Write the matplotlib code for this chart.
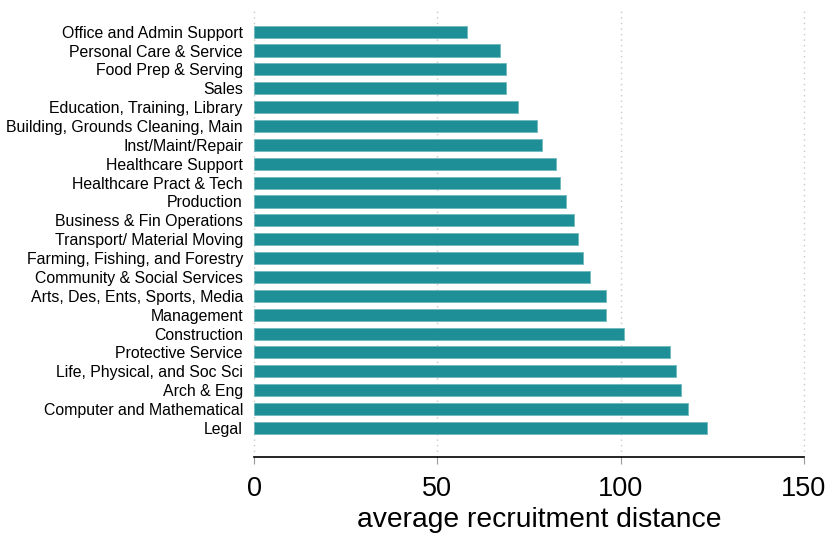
import matplotlib.pyplot as plt
import numpy as np

plt.rcParams['font.family'] = ['Liberation Sans', 'DejaVu Sans']

occupations = ['Office and Admin Support', 'Personal Care & Service', 'Food Prep & Serving',
               'Sales', 'Education, Training, Library', 'Building, Grounds Cleaning, Main',
               'Inst/Maint/Repair', 'Healthcare Support', 'Healthcare Pract & Tech',
               'Production', 'Business & Fin Operations', 'Transport/ Material Moving',
               'Farming, Fishing, and Forestry', 'Community & Social Services',
               'Arts, Des, Ents, Sports, Media', 'Management', 'Construction',
               'Protective Service', 'Life, Physical, and Soc Sci', 'Arch & Eng',
               'Computer and Mathematical', 'Legal']
distance = [58.2, 67.0, 68.8, 68.8, 72.0, 77.3, 78.5, 82.4, 83.5, 85.0, 87.4, 88.3,
            89.8, 91.7, 95.9, 96.0, 100.9, 113.4, 115.2, 116.4, 118.4, 123.5]

fig = plt.figure(figsize=(8.28, 5.37), dpi=100)
ax = fig.add_axes([0.3068, 0.149, 0.6642, 0.836])

y = np.arange(len(occupations))[::-1]
ax.barh(y, distance, height=0.64, color='#1e8f97', edgecolor='#6fb9bd', linewidth=0.6, zorder=2)

ax.set_yticks(y)
ax.set_yticklabels(occupations, fontsize=11.4)
ax.tick_params(axis='y', length=0, pad=8)

ax.set_xlim(0, 150)
ax.set_ylim(-1.54, 22.25)
ax.set_xticks([0, 50, 100, 150])
ax.tick_params(axis='x', labelsize=19.5, length=5, color='#999999', pad=9)
ax.set_xlabel('average recruitment distance', fontsize=20.3, labelpad=3, x=0.518)

ax.grid(axis='x', linestyle=(0, (1, 3)), color='#c8c8c8', linewidth=1, zorder=0)
for gl in ax.get_xgridlines():
    gl.set_clip_on(False)

ax.spines['right'].set_color('none')
ax.spines['top'].set_color('none')
ax.spines['left'].set_color('none')
ax.spines['bottom'].set_color('black')
ax.spines['bottom'].set_linewidth(1.2)

fig.savefig('out.png', dpi=100)
